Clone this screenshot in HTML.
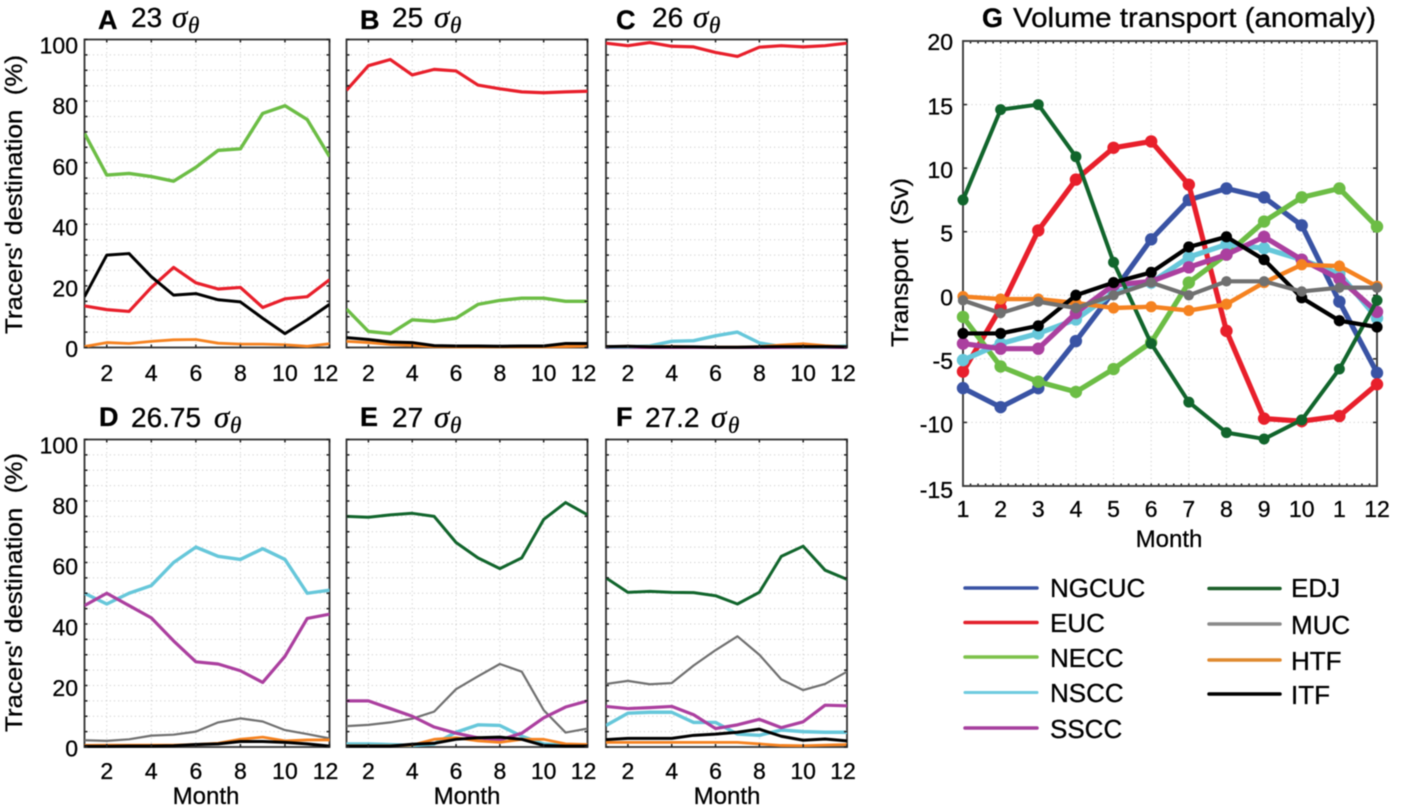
<!DOCTYPE html>
<html lang="en">
<head>
<meta charset="utf-8">
<title>Tracers' destination and volume transport</title>
<style>
html,body{margin:0;padding:0;background:#fff;}
#figure{display:block;filter:blur(0.5px);font-family:"Liberation Sans",Arial,sans-serif;fill:#000;}
#figure text{stroke:#000;stroke-width:.3px;}
.tick{font-size:23px;}
.axt{font-size:24px;}
.let{font-size:27px;font-weight:bold;}
.ttl{font-size:28px;}
.sig{font-family:"Liberation Serif",serif;font-style:italic;font-size:31px;}
.the{font-family:"Liberation Serif",serif;font-style:italic;font-size:23px;}
.leg{font-size:26px;}
</style>
</head>
<body>
<svg id="figure" xmlns="http://www.w3.org/2000/svg" width="1417" height="808" viewBox="0 0 1417 808">
  <rect width="1417" height="808" fill="#fff"/>
  <g id="plots"></g>

  <g>
    <g><text class="let" x="98" y="29">A</text><text class="ttl" x="131" y="27">23</text><text class="sig" x="172" y="27">σ</text><text class="the" x="188" y="33">θ</text></g>
    <g><text class="let" x="360" y="29">B</text><text class="ttl" x="392" y="27">25</text><text class="sig" x="434" y="27">σ</text><text class="the" x="450" y="33">θ</text></g>
    <g><text class="let" x="616" y="29">C</text><text class="ttl" x="652" y="27">26</text><text class="sig" x="693" y="27">σ</text><text class="the" x="709" y="33">θ</text></g>
    <g><text class="let" x="99" y="426">D</text><text class="ttl" x="131" y="427">26.75</text><text class="sig" x="214" y="427">σ</text><text class="the" x="230" y="433">θ</text></g>
    <g><text class="let" x="360" y="426">E</text><text class="ttl" x="392" y="427">27</text><text class="sig" x="434" y="427">σ</text><text class="the" x="450" y="433">θ</text></g>
    <g><text class="let" x="616" y="426">F</text><text class="ttl" x="645" y="427">27.2</text><text class="sig" x="711" y="427">σ</text><text class="the" x="728" y="433">θ</text></g>
    <g><text class="let" x="982" y="27">G</text><text class="ttl" x="1013" y="27" textLength="363" lengthAdjust="spacingAndGlyphs">Volume transport (anomaly)</text></g>
  </g>

  <g>
    <text class="axt" transform="translate(22,334) rotate(-90)" textLength="279" lengthAdjust="spacingAndGlyphs" xml:space="preserve">Tracers' destination  (%)</text>
    <text class="axt" transform="translate(22,732) rotate(-90)" textLength="279" lengthAdjust="spacingAndGlyphs" xml:space="preserve">Tracers' destination  (%)</text>
    <text class="axt" transform="translate(908,347) rotate(-90)" textLength="169" lengthAdjust="spacingAndGlyphs" xml:space="preserve">Transport  (Sv)</text>
    <text class="axt" x="206" y="804" text-anchor="middle">Month</text>
    <text class="axt" x="467" y="804" text-anchor="middle">Month</text>
    <text class="axt" x="727" y="804" text-anchor="middle">Month</text>
    <text class="axt" x="1169" y="547" text-anchor="middle">Month</text>
  </g>

  <g stroke-linecap="round">
    <g><line x1="965" x2="1037" y1="588" y2="588" stroke="#3953a4" stroke-width="3.5"/><text class="leg" x="1050" y="597">NGCUC</text></g>
    <g><line x1="965" x2="1037" y1="622.5" y2="622.5" stroke="#e3202c" stroke-width="3.5"/><text class="leg" x="1050" y="632">EUC</text></g>
    <g><line x1="965" x2="1037" y1="657" y2="657" stroke="#7dc24b" stroke-width="3.5"/><text class="leg" x="1050" y="667">NECC</text></g>
    <g><line x1="965" x2="1037" y1="692.5" y2="692.5" stroke="#6fcbdf" stroke-width="3"/><text class="leg" x="1050" y="702">NSCC</text></g>
    <g><line x1="965" x2="1037" y1="728" y2="728" stroke="#a63f9e" stroke-width="3.5"/><text class="leg" x="1050" y="738">SSCC</text></g>
    <g><line x1="1209" x2="1280" y1="588.5" y2="588.5" stroke="#1c5f2a" stroke-width="3.5"/><text class="leg" x="1291" y="597">EDJ</text></g>
    <g><line x1="1209" x2="1280" y1="624" y2="624" stroke="#8a8a8a" stroke-width="3.5"/><text class="leg" x="1291" y="634">MUC</text></g>
    <g><line x1="1209" x2="1280" y1="660" y2="660" stroke="#e0892f" stroke-width="3.5"/><text class="leg" x="1291" y="670">HTF</text></g>
    <g><line x1="1209" x2="1280" y1="694" y2="694" stroke="#000" stroke-width="3.5"/><text class="leg" x="1291" y="704">ITF</text></g>
  </g>
</svg>

<script>
// Categories and tick labels
const months = [1, 2, 3, 4, 5, 6, 7, 8, 9, 10, 11, 12];
const smallXTicks = [2, 4, 6, 8, 10, 12];
const smallXLabels = ["2", "4", "6", "8", "10", "12"];
const smallYLabels = [0, 20, 40, 60, 80, 100];
const smallYGrid = [5, 10, 15, 20, 25, 30, 35, 40, 45, 50, 55, 60, 65, 70, 75, 80, 85, 90, 95];
const transportXLabels = ["1", "2", "3", "4", "5", "6", "7", "8", "9", "10", "1", "12"];
const transportYLabels = [-15, -10, -5, 0, 5, 10, 15, 20];

// Panel A (23 sigma)
const aNECC = [69.5, 56, 56.5, 55.5, 54, 58.5, 64, 64.5, 76, 78.5, 74, 62];
const aITF = [16.5, 30, 30.5, 23, 17, 17.5, 15.5, 14.8, 9.5, 4.5, 9, 14];
const aEUC = [13.5, 12.3, 11.7, 19.5, 26, 21, 19, 19.5, 13, 15.8, 16.5, 22];
const aHTF = [0.3, 1.6, 1.3, 2, 2.5, 2.6, 1.4, 1.1, 1.1, 0.9, 0.4, 1.2];

// Panel B (25 sigma)
const bEUC = [83.5, 91.5, 93.5, 88.5, 90.3, 89.8, 85.2, 84, 83, 82.7, 83, 83.2];
const bNECC = [12.5, 5.2, 4.5, 9, 8.5, 9.5, 14, 15.3, 16, 16, 15, 15];
const bHTF = [2, 1.6, 1, 0.7, 0.3, 0.2, 0.2, 0.2, 0.2, 0.2, 0.3, 0.5];
const bITF = [3.2, 2.6, 1.8, 1.6, 0.6, 0.5, 0.5, 0.4, 0.5, 0.5, 1.3, 1.3];

// Panel C (26 sigma)
const cEUC = [98.8, 98, 99, 97.8, 97.6, 95.8, 94.5, 97.5, 98, 97.6, 98, 98.8];
const cSSCC = [0, 0, 0, 0, 0, 0, 0, 0, 0, 0, 0, 0];
const cNSCC = [0.2, 0.2, 0.5, 2, 2.2, 3.8, 5, 1.5, 0.3, 0.2, 0.2, 0.5];
const cHTF = [0.3, 0.4, 0.3, 0.3, 0.2, 0.1, 0.1, 0.3, 0.8, 1.2, 0.6, 0.2];
const cITF = [0.3, 0.4, 0.2, 0.2, 0.2, 0.1, 0.1, 0.2, 0.3, 0.3, 0.3, 0.2];

// Panel D (26.75 sigma)
const dNSCC = [50, 46.5, 50, 52.5, 60, 65, 62, 61, 64.5, 61, 50, 51];
const dSSCC = [46, 50, 46, 42, 34.5, 27.7, 27, 24.8, 21, 29.5, 41.8, 43.2];
const dMUC = [2.2, 2, 2.5, 3.7, 4, 5, 8, 9.3, 8.3, 5.5, 4.2, 2.8];
const dHTF = [0.5, 0.6, 0.6, 0.6, 0.6, 0.8, 1.2, 2.5, 3.2, 2, 2.3, 2.3];
const dITF = [0.2, 0.2, 0.3, 0.3, 0.4, 0.8, 1, 1.8, 1.8, 1.5, 1, 0.3];

// Panel E (27 sigma)
const eEDJ = [75, 74.7, 75.5, 76, 75, 66.5, 61.5, 58, 61.5, 74, 79.5, 75.5];
const eMUC = [6.8, 7.2, 8, 9.2, 11.5, 18.8, 23, 27, 24.5, 12, 4.7, 6];
const eSSCC = [15, 15, 12.5, 10, 6.5, 4.5, 3, 2.3, 4.5, 9.5, 13, 15];
const eNSCC = [1, 1, 0.8, 0.5, 1, 4.8, 7.2, 7, 3.5, 1, 0.5, 0.5];
const eHTF = [0.4, 0.4, 0.4, 0.6, 2.5, 3, 2, 1.5, 2.5, 2.5, 1, 0.8];
const eITF = [0.3, 0.3, 0.3, 0.9, 1.2, 2.5, 3, 3.2, 2.5, 0.5, 0.3, 0.3];

// Panel F (27.2 sigma)
const fEDJ = [55, 50.3, 50.6, 50.3, 50.2, 49.2, 46.5, 50.3, 62, 65.3, 57.5, 54.5];
const fMUC = [20.5, 21.5, 20.4, 20.8, 26.5, 31.5, 36, 30, 22, 18.5, 20.5, 24.5];
const fNSCC = [7, 11, 11.3, 11.3, 8, 8, 4.2, 3.8, 5.5, 5, 4.8, 4.8];
const fSSCC = [13.2, 12.5, 12.8, 13.2, 10.5, 6, 7.2, 9, 6.3, 8.2, 13.6, 13.4];
const fHTF = [1.5, 1.5, 1.5, 1.5, 1.5, 1.5, 1.5, 1, 0.5, 0.4, 0.6, 0.8];
const fITF = [2.4, 2.8, 2.8, 2.8, 3.8, 4.2, 4.8, 5.8, 3.5, 2.2, 2.6, 2];

// Panel G (volume transport anomaly, Sv)
const gNGCUC = [-7.3, -8.8, -7.3, -3.6, 0.3, 4.4, 7.5, 8.4, 7.7, 5.5, -0.5, -6.1];
const gEUC = [-6, -1, 5.1, 9.1, 11.6, 12.1, 8.7, -2.8, -9.7, -9.9, -9.5, -7];
const gNECC = [-1.7, -5.6, -6.8, -7.6, -5.8, -3.7, 1, 3.2, 5.8, 7.7, 8.4, 5.4];
const gNSCC = [-5.1, -3.8, -3, -1.9, 0.2, 1, 3, 4, 3.7, 2.8, 1.7, -1.8];
const gSSCC = [-3.8, -4.2, -4.2, -1.4, 0.8, 1.1, 2.2, 3.2, 4.6, 2.8, 1.3, -1.3];
const gEDJ = [7.5, 14.6, 15, 10.9, 2.6, -3.8, -8.4, -10.8, -11.3, -9.8, -5.8, -0.4];
const gHTF = [-0.1, -0.3, -0.3, -0.6, -1, -0.9, -1.2, -0.7, 1, 2.4, 2.3, 0.7];
const gITF = [-3, -3, -2.4, 0, 1, 1.8, 3.8, 4.6, 2.8, -0.2, -2, -2.5];
const gMUC = [-0.4, -1.4, -0.5, -1, 0, 1, 0, 1.1, 1.1, 0.3, 0.6, 0.6];

const seriesColor = {NGCUC:"#3953a4", EUC:"#e81f2b", NECC:"#6cbd45", NSCC:"#66c7da", SSCC:"#ab3f9f", EDJ:"#11652c", MUC:"#707070", HTF:"#f58220", ITF:"#000000"};
const lineWidth = {NGCUC:3.2, EUC:3.2, NECC:3.4, NSCC:3.4, SSCC:3.2, EDJ:3, MUC:2.2, HTF:2.8, ITF:3};
const bigWidth = {NGCUC:5.2, EUC:5.2, NECC:5.2, NSCC:5.2, SSCC:5.2, EDJ:4, MUC:4.2, HTF:4.4, ITF:4.2};
const bigRadius = {NGCUC:6.2, EUC:6.2, NECC:6.2, NSCC:6.2, SSCC:6.2, EDJ:5.5, MUC:5.2, HTF:5.6, ITF:5.6};

const panels = [
  {key:"a", left:84.5, right:329.5, top:39.5, bottom:347.5, labelDrop:33.5, yLabels:true, series:{NECC:aNECC, EUC:aEUC, HTF:aHTF, ITF:aITF}},
  {key:"b", left:346.5, right:587.5, top:39.5, bottom:347.5, labelDrop:33.5, yLabels:false, series:{EUC:bEUC, NECC:bNECC, HTF:bHTF, ITF:bITF}},
  {key:"c", left:606, right:847, top:39.5, bottom:347.5, labelDrop:33.5, yLabels:false, series:{EUC:cEUC, SSCC:cSSCC, NSCC:cNSCC, HTF:cHTF, ITF:cITF}},
  {key:"d", left:84.5, right:329.5, top:439.5, bottom:747, labelDrop:32, yLabels:true, series:{NSCC:dNSCC, SSCC:dSSCC, MUC:dMUC, HTF:dHTF, ITF:dITF}},
  {key:"e", left:346.5, right:587.5, top:439.5, bottom:747, labelDrop:32, yLabels:false, series:{EDJ:eEDJ, MUC:eMUC, NSCC:eNSCC, SSCC:eSSCC, HTF:eHTF, ITF:eITF}},
  {key:"f", left:606, right:847, top:439.5, bottom:747, labelDrop:32, yLabels:false, series:{EDJ:fEDJ, MUC:fMUC, NSCC:fNSCC, SSCC:fSSCC, HTF:fHTF, ITF:fITF}}
];
const transportPanel = {key:"g", left:963, right:1377, top:41, bottom:486, series:{NGCUC:gNGCUC, EUC:gEUC, NECC:gNECC, NSCC:gNSCC, SSCC:gSSCC, EDJ:gEDJ, HTF:gHTF, ITF:gITF, MUC:gMUC}};

const SVGNS = "http://www.w3.org/2000/svg";
const plots = document.getElementById("plots");

function make(parent, tag, attrs) {
  const el = document.createElementNS(SVGNS, tag);
  for (const k in attrs) el.setAttribute(k, attrs[k]);
  parent.appendChild(el);
  return el;
}
function xScale(p, m) { return p.left + (m - 1) * (p.right - p.left) / 11; }
function yScale(p, v, lo, hi) { return p.bottom - (v - lo) * (p.bottom - p.top) / (hi - lo); }
function pathFor(p, values, lo, hi) {
  return values.map(function (v, i) {
    return (i ? "L" : "M") + xScale(p, months[i]).toFixed(2) + " " + yScale(p, v, lo, hi).toFixed(2);
  }).join(" ");
}

function drawGridLine(g, x1, y1, x2, y2) {
  const l = make(g, "line", {x1:x1, y1:y1, x2:x2, y2:y2, stroke:"#cfcfcf", "stroke-width":1, "stroke-dasharray":"1.2 3"});
  
  
}
function drawTick(g, x1, y1, x2, y2) {
  const l = make(g, "line", {x1:x1, y1:y1, x2:x2, y2:y2, stroke:"#222", "stroke-width":1.5});
  
  
}
function drawLabel(g, x, y, anchor, str) {
  const t = make(g, "text", {x:x, y:y, "text-anchor":anchor, "class":"tick"});
  
  
  t.textContent = str;
}
function drawFrame(g, p) {
  const r = make(g, "rect", {x:p.left, y:p.top, width:p.right - p.left, height:p.bottom - p.top, fill:"none", stroke:"#3c3c3c", "stroke-width":1.9});
  
  
}

// Small percentage panels A-F
panels.forEach(function (p) {
  const g = make(plots, "g", {});
  
  

  smallYGrid.forEach(function (v) {
    const y = yScale(p, v, 0, 100);
    drawGridLine(g, p.left, y, p.right, y);
  });
  smallXTicks.forEach(function (m) {
    const x = xScale(p, m);
    drawGridLine(g, x, p.top, x, p.bottom);
  });

  drawFrame(g, p);

  const clip = make(g, "clipPath", {id:"clip-" + p.key});
  make(clip, "rect", {x:p.left, y:p.top, width:p.right - p.left, height:p.bottom - p.top + 1.5});
  const lines = make(g, "g", {"clip-path":"url(#clip-" + p.key + ")"});
  Object.keys(p.series).forEach(function (name) {
    const line = make(lines, "path", {d:pathFor(p, p.series[name], 0, 100), fill:"none", stroke:seriesColor[name], "stroke-width":lineWidth[name], "stroke-linejoin":"round"});
    
    
  });

  smallYGrid.concat([0, 100]).forEach(function (v) {
    const y = yScale(p, v, 0, 100);
    drawTick(g, p.left, y, p.left + 3, y);
    drawTick(g, p.right - 3, y, p.right, y);
  });
  smallXTicks.forEach(function (m, i) {
    const x = xScale(p, m);
    drawTick(g, x, p.top, x, p.top + 3);
    drawTick(g, x, p.bottom - 3, x, p.bottom);
    const nudge = m === 12 ? -4 : 0;
    drawLabel(g, x + nudge, p.bottom + p.labelDrop, "middle", smallXLabels[i]);
  });
  if (p.yLabels) {
    smallYLabels.forEach(function (v) {
      drawLabel(g, 78, yScale(p, v, 0, 100) + 9.5 + v * 0.045, "end", String(v));
    });
  }
});

// Transport panel G
(function (p) {
  const lo = transportYLabels[0];
  const hi = transportYLabels[transportYLabels.length - 1];
  const g = make(plots, "g", {});
  
  

  transportYLabels.forEach(function (v) {
    const y = yScale(p, v, lo, hi);
    drawGridLine(g, p.left, y, p.right, y);
    drawTick(g, p.left, y, p.left + 4, y);
    drawTick(g, p.right - 4, y, p.right, y);
    drawLabel(g, 953, y + (v === 20 ? 9 : v === -15 ? 12 : 10), "end", String(v));
  });
  months.forEach(function (m, i) {
    const x = xScale(p, m);
    drawGridLine(g, x, p.top, x, p.bottom);
    drawLabel(g, x, p.bottom + 31, "middle", transportXLabels[i]);
    for (let k = 0; k < 5 && m < 12; k++) {
      const tx = xScale(p, m + k * 0.2);
      drawTick(g, tx, p.top, tx, p.top + 2.5);
      drawTick(g, tx, p.bottom - 2.5, tx, p.bottom);
    }
  });
  drawFrame(g, p);

  Object.keys(p.series).forEach(function (name) {
    const values = p.series[name];
    const sg = make(g, "g", {});
    
    
    const line = make(sg, "path", {d:pathFor(p, values, lo, hi), fill:"none", stroke:seriesColor[name], "stroke-width":bigWidth[name], "stroke-linejoin":"round"});
    
    
    values.forEach(function (v, i) {
      const dot = make(sg, "circle", {cx:xScale(p, months[i]), cy:yScale(p, v, lo, hi), r:bigRadius[name], fill:seriesColor[name]});
      
      
    });
  });
})(transportPanel);
</script>
</body>
</html>
